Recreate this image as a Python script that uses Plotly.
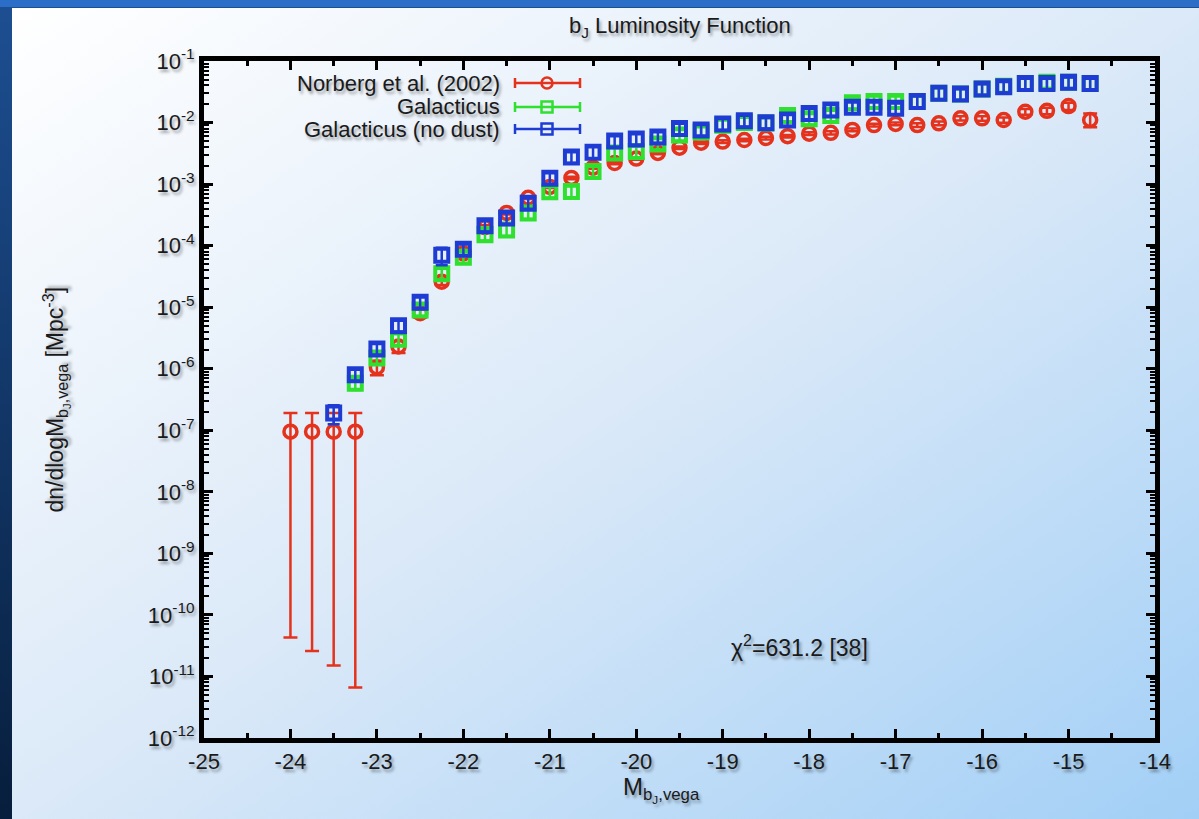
import base64
import plotly.graph_objects as go

# ---------------- data ----------------
mags = [-24.0, -23.75, -23.5, -23.25, -23.0, -22.75, -22.5, -22.25, -22.0, -21.75,
        -21.5, -21.25, -21.0, -20.75, -20.5, -20.25, -20.0, -19.75, -19.5, -19.25,
        -19.0, -18.75, -18.5, -18.25, -18.0, -17.75, -17.5, -17.25, -17.0, -16.75,
        -16.5, -16.25, -16.0, -15.75, -15.5, -15.25, -15.0, -14.75]

norberg = [9.5e-8, 9.5e-8, 9.5e-8, 9.5e-8, 1.05e-6, 2.3e-6, 8.0e-6, 2.6e-5, 7.5e-5, 2.0e-4,
           3.4e-4, 6.0e-4, 9.0e-4, 1.26e-3, 1.85e-3, 2.2e-3, 2.6e-3, 3.2e-3, 3.9e-3, 4.7e-3,
           4.9e-3, 5.2e-3, 5.6e-3, 6.0e-3, 6.6e-3, 6.8e-3, 7.6e-3, 9.1e-3, 9.5e-3, 9.1e-3,
           9.7e-3, 1.17e-2, 1.17e-2, 1.1e-2, 1.5e-2, 1.55e-2, 1.85e-2, 1.1e-2]
norberg_hi = [1.9e-7, 1.9e-7, 1.9e-7, 1.9e-7, 1.35e-6, 2.8e-6, 9.2e-6, 2.9e-5, 8.2e-5, 2.15e-4,
              3.6e-4, 6.3e-4, 9.4e-4, 1.32e-3, 1.93e-3, 2.3e-3, 2.72e-3, 3.35e-3, 4.1e-3, 4.9e-3,
              5.15e-3, 5.45e-3, 5.9e-3, 6.3e-3, 6.95e-3, 7.2e-3, 8.0e-3, 9.6e-3, 1.0e-2, 9.7e-3,
              1.04e-2, 1.26e-2, 1.27e-2, 1.21e-2, 1.66e-2, 1.74e-2, 2.1e-2, 1.4e-2]
norberg_lo = [4.3e-11, 2.6e-11, 1.5e-11, 6.6e-12, 7.8e-7, 1.8e-6, 6.8e-6, 2.3e-5, 6.8e-5, 1.85e-4,
              3.2e-4, 5.7e-4, 8.6e-4, 1.2e-3, 1.77e-3, 2.1e-3, 2.48e-3, 3.05e-3, 3.7e-3, 4.5e-3,
              4.65e-3, 4.95e-3, 5.3e-3, 5.7e-3, 6.25e-3, 6.4e-3, 7.2e-3, 8.6e-3, 9.0e-3, 8.5e-3,
              9.0e-3, 1.08e-2, 1.07e-2, 9.9e-3, 1.34e-2, 1.36e-2, 1.6e-2, 8.4e-3]

galacticus = [None, None, None, 5.8e-7, 1.5e-6, 3.0e-6, 9.0e-6, 3.5e-5, 6.5e-5, 1.5e-4,
              1.8e-4, 3.4e-4, 7.5e-4, 7.6e-4, 1.6e-3, 3.2e-3, 3.4e-3, 4.5e-3, 6.3e-3, 7.0e-3,
              9.0e-3, 1.0e-2, 9.8e-3, 1.3e-2, 1.15e-2, 1.3e-2, 2.1e-2, 2.2e-2, 2.2e-2, 2.2e-2,
              3.0e-2, 2.9e-2, 3.5e-2, 3.9e-2, 4.3e-2, 4.5e-2, 4.5e-2, 4.3e-2]
galacticus_err = [None, None, None, 1.3e-7, 3.2e-7, 6.2e-7, 1.8e-6, 7.0e-6, 1.3e-5, 3.0e-5,
                  3.6e-5, 6.8e-5, 1.5e-4, 1.5e-4, 3.2e-4, 6.4e-4, 6.8e-4, 9.0e-4, 1.26e-3, 1.4e-3,
                  1.8e-3, 2.0e-3, 1.96e-3, 2.6e-3, 2.3e-3, 2.6e-3, 4.2e-3, 4.4e-3, 4.4e-3, 4.4e-3,
                  6.0e-3, 5.8e-3, 7.0e-3, 7.8e-3, 8.6e-3, 9.0e-3, 9.0e-3, 8.6e-3]

galacticus_nodust = [None, None, 1.9e-7, 8.0e-7, 2.1e-6, 5.0e-6, 1.2e-5, 7.0e-5, 8.7e-5, 2.1e-4,
                     2.8e-4, 4.9e-4, 1.25e-3, 2.75e-3, 3.3e-3, 5.0e-3, 5.4e-3, 5.8e-3, 8.0e-3, 7.6e-3,
                     9.5e-3, 1.07e-2, 9.9e-3, 1.1e-2, 1.4e-2, 1.6e-2, 1.77e-2, 1.77e-2, 1.7e-2, 2.2e-2,
                     3.0e-2, 2.9e-2, 3.5e-2, 3.8e-2, 4.3e-2, 4.3e-2, 4.5e-2, 4.3e-2]
galacticus_nodust_err = [None, None, 6.5e-8, 1.6e-7, 4.2e-7, 1.0e-6, 2.4e-6, 2.2e-5, 1.7e-5, 4.2e-5,
                         5.6e-5, 9.8e-5, 2.5e-4, 5.5e-4, 6.6e-4, 1.0e-3, 1.08e-3, 1.16e-3, 1.6e-3, 1.52e-3,
                         1.9e-3, 2.14e-3, 1.98e-3, 2.2e-3, 2.8e-3, 3.2e-3, 3.5e-3, 3.5e-3, 3.4e-3, 4.4e-3,
                         6.0e-3, 5.8e-3, 7.0e-3, 7.6e-3, 8.6e-3, 8.6e-3, 9.0e-3, 8.6e-3]

x_tick_vals = [-25, -24, -23, -22, -21, -20, -19, -18, -17, -16, -15, -14]
x_tick_text = ["-25", "-24", "-23", "-22", "-21", "-20", "-19", "-18", "-17", "-16", "-15", "-14"]
y_tick_vals = [1e-12, 1e-11, 1e-10, 1e-9, 1e-8, 1e-7, 1e-6, 1e-5, 1e-4, 1e-3, 1e-2, 1e-1]
y_tick_text = ["10<sup>-12</sup>", "10<sup>-11</sup>", "10<sup>-10</sup>", "10<sup>-9</sup>",
               "10<sup>-8</sup>", "10<sup>-7</sup>", "10<sup>-6</sup>", "10<sup>-5</sup>",
               "10<sup>-4</sup>", "10<sup>-3</sup>", "10<sup>-2</sup>", "10<sup>-1</sup>"]

series_names = ["Norberg et al. (2002)", "Galacticus", "Galacticus (no dust)"]

# ---------------- style ----------------
RED, GREEN, BLUE = "#e4321c", "#2fe02f", "#1e3cd4"
FONT = "Liberation Sans, Arial, Helvetica, sans-serif"
SHADOW = "2px 3px 3px rgba(0,0,0,0.35)"
TXT = "#1a1a1a"

W, H = 1199, 819
ML, MR, MT, MB = 204, 44, 61, 81
PW, PH = W - ML - MR, H - MT - MB


def px(x):
    return (x - ML) / PW


def py(y):
    return (H - MB - y) / PH


norberg_plus = [h - v for h, v in zip(norberg_hi, norberg)]
norberg_minus = [v - l for v, l in zip(norberg, norberg_lo)]

fig = go.Figure()

fig.add_trace(go.Scatter(
    x=mags, y=norberg, mode="markers", name=series_names[0],
    marker=dict(symbol="circle-open", size=13, color=RED, line=dict(width=3.5, color=RED)),
    error_y=dict(type="data", symmetric=False, array=norberg_plus, arrayminus=norberg_minus,
                 color=RED, thickness=2.5, width=7),
))
fig.add_trace(go.Scatter(
    x=mags, y=galacticus, mode="markers", name=series_names[1],
    marker=dict(symbol="square-open", size=13, color=GREEN, line=dict(width=4, color=GREEN)),
    error_y=dict(type="data", array=galacticus_err, color=GREEN, thickness=2.5, width=6),
))
fig.add_trace(go.Scatter(
    x=mags, y=galacticus_nodust, mode="markers", name=series_names[2],
    marker=dict(symbol="square-open", size=13, color=BLUE, line=dict(width=4, color=BLUE)),
    error_y=dict(type="data", array=galacticus_nodust_err, color=BLUE, thickness=2.5, width=6),
))

# ---------------- background (slide) ----------------
svg = f"""<svg xmlns='http://www.w3.org/2000/svg' width='{W}' height='{H}' viewBox='0 0 {W} {H}'>
<defs>
<linearGradient id='g' x1='0' y1='0' x2='1' y2='1'>
<stop offset='0' stop-color='#ffffff'/>
<stop offset='0.5' stop-color='#dbe9f8'/>
<stop offset='1' stop-color='#a2cff6'/>
</linearGradient>
<linearGradient id='f' x1='0' y1='0' x2='0' y2='1'>
<stop offset='0' stop-color='#1d4f92'/>
<stop offset='1' stop-color='#071e3c'/>
</linearGradient>
</defs>
<rect x='0' y='0' width='{W}' height='{H}' fill='url(#f)'/>
<rect x='0' y='0' width='{W}' height='7' fill='#2a6ec8'/>
<rect x='12' y='8' width='{W - 12}' height='{H - 8}' fill='url(#g)'/>
</svg>"""
src = "data:image/svg+xml;base64," + base64.b64encode(svg.encode()).decode()

fig.add_layout_image(dict(
    source=src, xref="paper", yref="paper",
    x=-ML / PW, y=1 + MT / PH, sizex=W / PW, sizey=H / PH,
    xanchor="left", yanchor="top", sizing="stretch", layer="below",
))

axis_common = dict(
    showline=True, linewidth=5, linecolor="black", mirror="allticks",
    ticks="inside", ticklen=9, tickwidth=3, tickcolor="black",
    showgrid=False, zeroline=False,
    tickfont=dict(family=FONT, size=22, color=TXT, shadow=SHADOW),
)

fig.update_xaxes(
    range=[-25, -14], tickmode="array", tickvals=x_tick_vals, ticktext=x_tick_text,
    minor=dict(ticks="inside", ticklen=5, tickwidth=2.5, tickcolor="black",
               tickmode="linear", tick0=-24.5, dtick=1, showgrid=False),
    **axis_common,
)
fig.update_yaxes(
    type="log", range=[-12, -1], tickmode="array", tickvals=y_tick_vals, ticktext=y_tick_text,
    minor=dict(ticks="inside", ticklen=5, tickwidth=2, tickcolor="black",
               dtick="D1", showgrid=False),
    **axis_common,
)

annotations = [
    dict(text="b<sub>J</sub> Luminosity Function", x=px(679.5), y=py(27),
         font=dict(size=22, family=FONT, color=TXT, shadow=SHADOW)),
    dict(text="M<sub>b<sub>J</sub>,vega</sub>", x=px(661), y=py(789),
         font=dict(size=24, family=FONT, color=TXT, shadow=SHADOW)),
    dict(text="dn/dlogM<sub>b<sub>J</sub>,vega</sub> [Mpc<sup>-3</sup>]", x=px(56), y=0.5,
         textangle=-90, font=dict(size=23, family=FONT, color=TXT, shadow=SHADOW)),
    dict(text="χ<sup>2</sup>=631.2 [38]", x=px(799), y=py(646),
         font=dict(size=23, family=FONT, color=TXT, shadow=SHADOW)),
]
for a in annotations:
    a.update(xref="paper", yref="paper", showarrow=False, xanchor="center", yanchor="middle")

# custom gnuplot-style key: text right-aligned, sample on the right
shapes = []
key_rows = [83, 107, 129]
key_colors = [RED, GREEN, BLUE]
key_shapes = ["circle", "rect", "rect"]
for name, yrow, col, shp in zip(series_names, key_rows, key_colors, key_shapes):
    annotations.append(dict(
        text=name, xref="paper", yref="paper", x=px(502), y=py(yrow),
        xanchor="right", yanchor="middle", showarrow=False,
        font=dict(size=22, family=FONT, color=TXT, shadow=SHADOW)))
    shapes.append(dict(type="line", xref="paper", yref="paper",
                       x0=px(515), x1=px(580), y0=py(yrow), y1=py(yrow),
                       line=dict(color=col, width=2.5)))
    for xc in (515, 580):
        shapes.append(dict(type="line", xref="paper", yref="paper",
                           x0=px(xc), x1=px(xc), y0=py(yrow - 5), y1=py(yrow + 5),
                           line=dict(color=col, width=2.5)))
    shapes.append(dict(type=shp, xref="paper", yref="paper",
                       x0=px(547 - 5.5), x1=px(547 + 5.5), y0=py(yrow - 5.5), y1=py(yrow + 5.5),
                       line=dict(color=col, width=2.5), fillcolor="rgba(0,0,0,0)"))

fig.update_layout(
    width=W, height=H,
    margin=dict(l=ML, r=MR, t=MT, b=MB, pad=0),
    paper_bgcolor="#0b2748", plot_bgcolor="rgba(0,0,0,0)",
    showlegend=False, annotations=annotations, shapes=shapes,
    font=dict(family=FONT),
)

fig.write_html("out.html")
